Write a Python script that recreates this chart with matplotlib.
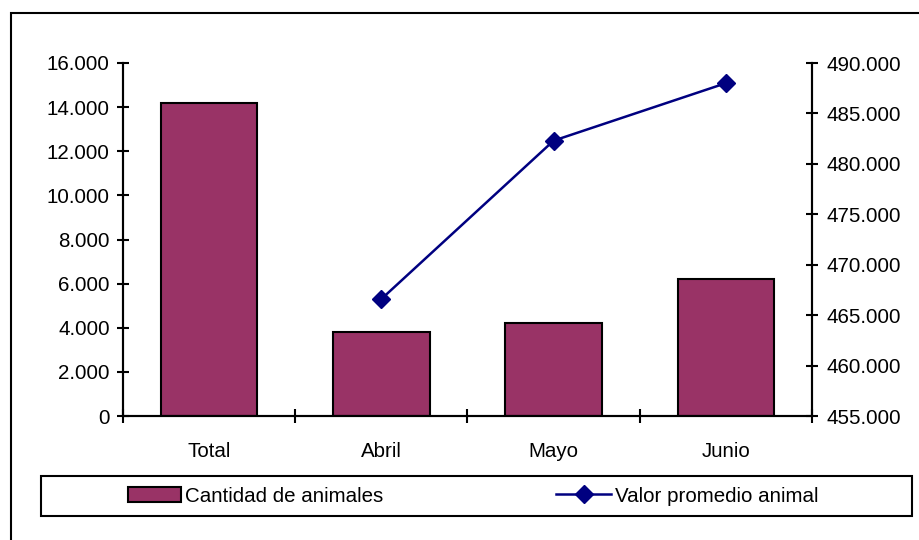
import numpy as np
import matplotlib.pyplot as plt
from matplotlib.patches import Rectangle
from matplotlib.lines import Line2D
from matplotlib.ticker import FuncFormatter, FixedLocator

plt.rcParams['font.family'] = ['Liberation Sans', 'DejaVu Sans']
plt.rcParams['font.size'] = 14.8

# data
categorias = ['Total', 'Abril', 'Mayo', 'Junio']
cantidad = [14200, 3810, 4220, 6210]
valor_promedio = [np.nan, 466600, 482300, 488000]

bar_color = '#993366'
line_color = '#000080'
fs = 14.8

def miles(v, pos):
  return '{:,.0f}'.format(v).replace(',', '.')

fig = plt.figure(figsize=(9.2, 5.4), dpi=100)
ax = fig.add_axes([123/920, 1-416/540, (812-123)/920, (416-63)/540])

x = np.arange(len(categorias))
ax.bar(x, cantidad, width=0.56, color=bar_color, edgecolor='black', linewidth=1.5, zorder=2)
ax.set_xlim(-0.5, len(categorias)-0.5)
ax.set_ylim(0, 16000)
ax.set_yticks(np.arange(0, 16001, 2000))
ax.yaxis.set_major_formatter(FuncFormatter(miles))

#x axis: tick marks between categories, labels at centres
ax.xaxis.set_major_locator(FixedLocator(np.arange(-0.5, len(categorias), 1.0)))
ax.xaxis.set_minor_locator(FixedLocator(x))
ax.set_xticklabels([''] * (len(categorias)+1))
ax.set_xticklabels(categorias, minor=True)
ax.tick_params(axis='x', which='major', direction='inout', length=10, width=1.5)
ax.tick_params(axis='x', which='minor', length=0, pad=19, labelsize=fs)
ax.tick_params(axis='y', direction='inout', length=9, width=1.5, pad=5, labelsize=fs)

for s in ['left', 'bottom', 'right']:
  ax.spines[s].set_linewidth(1.5)
ax.spines['top'].set_visible(False)

ax2 = ax.twinx()
ax2.plot(x, valor_promedio, color=line_color, linewidth=1.8, marker='D', markersize=9.5, zorder=3)
ax2.set_ylim(455000, 490000)
ax2.set_yticks(np.arange(455000, 490001, 5000))
ax2.yaxis.set_major_formatter(FuncFormatter(miles))
ax2.tick_params(axis='y', direction='inout', length=9, width=1.5, pad=6, labelsize=fs)
for s in ['left', 'bottom', 'right']:
  ax2.spines[s].set_linewidth(1.5)
ax2.spines['top'].set_visible(False)

#outer frame
fig.add_artist(Rectangle((11/920, -0.1), 1.2, 1-13/540+0.1, transform=fig.transFigure,
                         fill=False, edgecolor='black', linewidth=1.5))

#legend box
fig.add_artist(Rectangle((41/920, 1-516/540), (912-41)/920, 40/540, transform=fig.transFigure,
                         fill=False, edgecolor='black', linewidth=1.5))
h1 = Rectangle((0, 0), 1, 1, facecolor=bar_color, edgecolor='black', linewidth=1.5)
h2 = Line2D([], [], color=line_color, linewidth=1.8, marker='D', markersize=9.5)
fig.legend([h1], ['Cantidad de animales'], loc='center left',
           bbox_to_anchor=(128/920, 1-496/540), frameon=False, borderpad=0,
           borderaxespad=0, handlelength=2.6, handleheight=0.7, handletextpad=0.15,
           fontsize=fs)
fig.legend([h2], ['Valor promedio animal'], loc='center left',
           bbox_to_anchor=(556/920, 1-496/540), frameon=False, borderpad=0,
           borderaxespad=0, handlelength=2.7, handletextpad=0.15, fontsize=fs)

fig.savefig('out.png', dpi=100)
